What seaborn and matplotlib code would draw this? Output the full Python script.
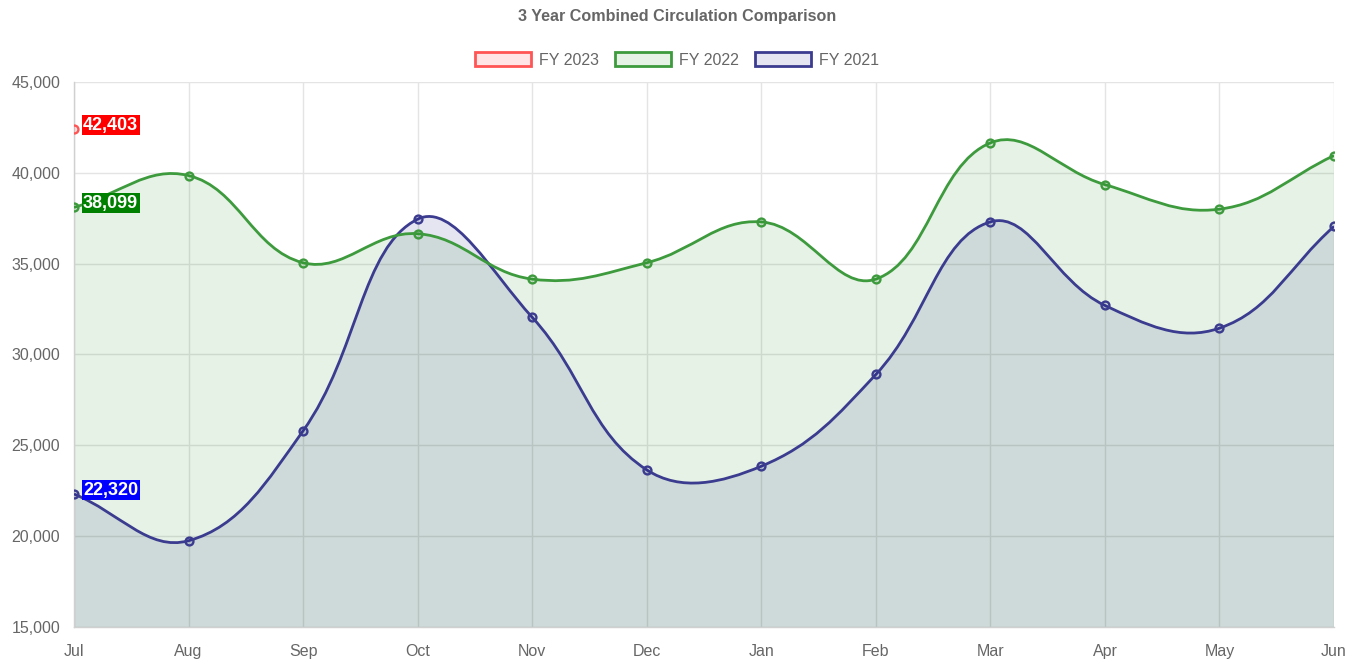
import numpy as np
import matplotlib
matplotlib.use("Agg")
import matplotlib.pyplot as plt
import seaborn as sns
from matplotlib.path import Path
from matplotlib.patches import PathPatch, Patch
from matplotlib.ticker import FuncFormatter

months = ['Jul', 'Aug', 'Sep', 'Oct', 'Nov', 'Dec', 'Jan', 'Feb', 'Mar', 'Apr', 'May', 'Jun']
fy2023 = [42403]
fy2022 = [38099, 39850, 35050, 36650, 34150, 35050, 37300, 34150, 41650, 39350, 38000, 40950]
fy2021 = [22320, 19750, 25800, 37450, 32050, 23650, 23850, 28900, 37300, 32700, 31450, 37050]
y_ticks = [15000, 20000, 25000, 30000, 35000, 40000, 45000]

sns.set_theme(style="white")
plt.rcParams['font.family'] = ['Liberation Sans', 'DejaVu Sans']

W, H = 1354, 660
fig = plt.figure(figsize=(W / 100, H / 100), dpi=100)
ax = fig.add_axes([74 / W, 33 / H, 1260 / W, 545 / H])
ymin, ymax = 15000, 45000
ax.set_xlim(0, len(months) - 1)
ax.set_ylim(ymin, ymax)

# pixel scale, used so the spline tension works like chart.js
sx = 1260 / (len(months) - 1)
sy = 545 / (ymax - ymin)


def spline_path(ys, t=0.4, close=False):
    xs = np.arange(len(ys), dtype=float)
    px, py = xs * sx, np.array(ys, dtype=float) * sy
    n = len(px)
    c1, c2 = [], []
    for i in range(n):
        p, q = max(i - 1, 0), min(i + 1, n - 1)
        d01 = np.hypot(px[i] - px[p], py[i] - py[p])
        d12 = np.hypot(px[q] - px[i], py[q] - py[i])
        tot = d01 + d12
        s01 = d01 / tot if tot else 0
        s12 = d12 / tot if tot else 0
        fa, fb = t * s01, t * s12
        c1.append((px[i] - fa * (px[q] - px[p]), py[i] - fa * (py[q] - py[p])))
        c2.append((px[i] + fb * (px[q] - px[p]), py[i] + fb * (py[q] - py[p])))
    verts = [(px[0], py[0])]
    codes = [Path.MOVETO]
    for i in range(n - 1):
        verts += [c2[i], c1[i + 1], (px[i + 1], py[i + 1])]
        codes += [Path.CURVE4] * 3
    verts = [(vx / sx, min(max(vy / sy, ymin), ymax)) for vx, vy in verts]
    if close:
        verts += [(xs[-1], ymin), (xs[0], ymin), verts[0]]
        codes += [Path.LINETO, Path.LINETO, Path.CLOSEPOLY]
    return Path(verts, codes)


series = [
    ('FY 2021', fy2021, '#3b3b8f', (0, 0, 0.5, 0.1), '#0000ff'),
    ('FY 2022', fy2022, '#3d9a3d', (0, 0.5, 0, 0.1), '#008000'),
    ('FY 2023', fy2023, '#ff5555', (1, 0, 0, 0.1), '#ff0000'),
]

for name, vals, line_c, fill_c, label_c in series:
    if len(vals) > 1:
        ax.add_patch(PathPatch(spline_path(vals, close=True), facecolor=fill_c, edgecolor='none', zorder=2))
        ax.add_patch(PathPatch(spline_path(vals), facecolor='none', edgecolor=line_c, lw=2, zorder=3))
    sns.scatterplot(x=np.arange(len(vals)), y=vals, ax=ax, s=32, color=fill_c,
                    edgecolor=line_c, linewidth=1.7, zorder=4, legend=False)
    ax.annotate(f"{vals[0]:,}", (0, vals[0]), xytext=(9, 4), textcoords='offset pixels',
                ha='left', va='center', color='white', fontsize=13, fontweight='bold',
                bbox=dict(boxstyle='square,pad=0.08', fc=label_c, ec='none'), zorder=5)

ax.set_xticks(range(len(months)))
ax.set_xticklabels(months)
ax.set_yticks(y_ticks)
ax.yaxis.set_major_formatter(FuncFormatter(lambda v, _: f"{int(v):,}"))
ax.grid(True, color='#e4e4e4', lw=1)
ax.set_axisbelow(True)
ax.tick_params(axis='both', length=7, width=1, color='#e4e4e4', labelcolor='#666666', labelsize=11.5, pad=3)
ax.tick_params(axis='x', pad=5)
for side in ['top', 'right']:
    ax.spines[side].set_visible(False)
for side in ['left', 'bottom']:
    ax.spines[side].set_color('#d0d0d0')
    ax.spines[side].set_linewidth(1)

fig.text(0.5, 1 - 16 / H, '3 Year Combined Circulation Comparison', ha='center', va='center',
         fontsize=11.6, fontweight='bold', color='#666666')

handles = [Patch(facecolor=(1, 0, 0, 0.1), edgecolor='#ff5555', lw=2, label='FY 2023'),
           Patch(facecolor=(0, 0.5, 0, 0.1), edgecolor='#3d9a3d', lw=2, label='FY 2022'),
           Patch(facecolor=(0, 0, 0.5, 0.1), edgecolor='#3b3b8f', lw=2, label='FY 2021')]
leg = fig.legend(handles=handles, loc='center', bbox_to_anchor=(0.5, 1 - 60 / H), ncol=3,
                 frameon=False, fontsize=11.5, handlelength=3.5, handleheight=1.0,
                 columnspacing=1.0, handletextpad=0.5)
for txt in leg.get_texts():
    txt.set_color('#666666')

fig.savefig('out.png', dpi=100)
